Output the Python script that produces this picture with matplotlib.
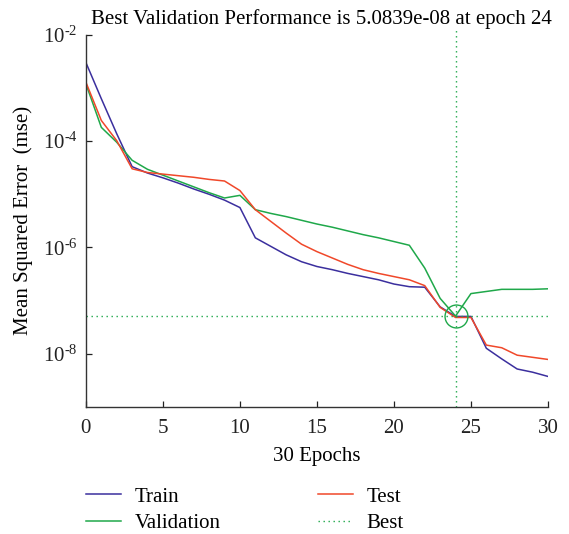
import numpy as np
import matplotlib.pyplot as plt

plt.rcParams['font.family'] = ['Liberation Serif', 'DejaVu Serif']
plt.rcParams['mathtext.fontset'] = 'custom'
plt.rcParams['mathtext.rm'] = 'Liberation Serif'

# log10(mse), epochs 0..30
epochs = np.arange(31)
train_log = [-2.52, -3.20, -3.86, -4.48, -4.60, -4.69, -4.79, -4.90, -5.00, -5.11,
             -5.25, -5.82, -5.98, -6.14, -6.27, -6.36, -6.42, -6.49, -6.55, -6.61,
             -6.69, -6.74, -6.75, -7.12, -7.30, -7.30, -7.90, -8.10, -8.29, -8.35, -8.43]
val_log = [-2.92, -3.74, -4.02, -4.36, -4.53, -4.64, -4.75, -4.86, -4.97, -5.07,
           -5.02, -5.29, -5.36, -5.42, -5.49, -5.56, -5.62, -5.69, -5.76, -5.82,
           -5.89, -5.96, -6.39, -6.96, -7.294, -6.87, -6.83, -6.79, -6.79, -6.79, -6.78]
test_log = [-2.89, -3.61, -3.99, -4.52, -4.59, -4.62, -4.65, -4.68, -4.72, -4.75,
            -4.93, -5.29, -5.51, -5.73, -5.94, -6.08, -6.20, -6.32, -6.42, -6.49,
            -6.55, -6.61, -6.72, -7.13, -7.32, -7.32, -7.84, -7.89, -8.03, -8.07, -8.11]

train = 10.0 ** np.array(train_log)
val = 10.0 ** np.array(val_log)
test = 10.0 ** np.array(test_log)

best_epoch = 24
best_val = 5.0839e-08

c_train = '#3b2f9e'
c_val = '#1fa84a'
c_test = '#f0482a'

fig = plt.figure(figsize=(5.69, 5.34), dpi=100)
ax = fig.add_axes([0.151, 0.2384, 0.812, 0.6961])

ax.semilogy(epochs, train, color=c_train, lw=1.1, label='Train')
ax.semilogy(epochs, val, color=c_val, lw=1.1, label='Validation')
ax.semilogy(epochs, test, color=c_test, lw=1.1, label='Test')
ax.axhline(best_val, color=c_val, lw=1.0, dashes=(1, 2.6), label='Best')
ax.axvline(best_epoch, ymax=1.016, clip_on=False, color=c_val, lw=1.0, dashes=(1, 2.6))
ax.plot(best_epoch, best_val, 'o', mfc='none', mec=c_val, ms=16.5, mew=1.0)

ax.set_xlim(0, 30)
ax.set_ylim(1e-9, 1e-2)
ax.set_xticks(range(0, 31, 5))
ax.set_yticks([1e-8, 1e-6, 1e-4, 1e-2])
ax.set_yticklabels([r'$\mathregular{10^{\text{-}8}}$', r'$\mathregular{10^{\text{-}6}}$',
                    r'$\mathregular{10^{\text{-}4}}$', r'$\mathregular{10^{\text{-}2}}$'])
ax.minorticks_off()
ax.tick_params(direction='in', length=4, width=0.9, labelsize=15, colors='#222222')
ax.tick_params(axis='x', pad=9)
ax.tick_params(axis='y', pad=6)
for s in ['top', 'right']:
    ax.spines[s].set_visible(False)
for s in ['left', 'bottom']:
    ax.spines[s].set_color('#333333')
    ax.spines[s].set_linewidth(1.0)

ax.set_title('Best Validation Performance is 5.0839e-08 at epoch 24', fontsize=15,
             pad=8, x=0.509)
ax.set_xlabel('30 Epochs', fontsize=15, labelpad=6)
ax.set_ylabel('Mean Squared Error  (mse)', fontsize=15, labelpad=7)

handles, labels = ax.get_legend_handles_labels()
fig.legend(handles, labels, ncol=2, loc='upper left',
           bbox_to_anchor=(0.151, 1 - 487 / 534), frameon=False, fontsize=15,
           handlelength=1.68, handletextpad=0.67, columnspacing=4.65,
           labelspacing=0.32, borderpad=0, borderaxespad=0)

fig.savefig('out.png', dpi=100)
